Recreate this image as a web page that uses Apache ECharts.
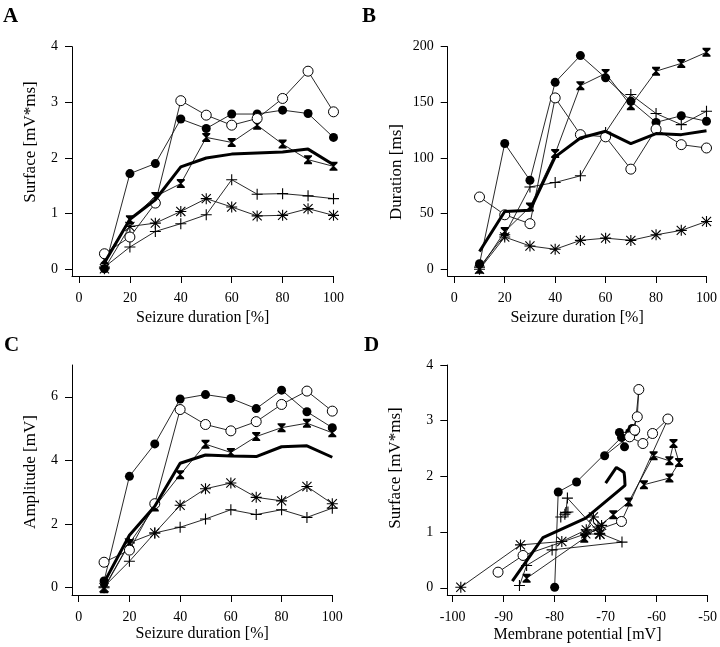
<!DOCTYPE html>
<html>
<head>
<meta charset="utf-8">
<script src="https://cdn.jsdelivr.net/npm/echarts@6/dist/echarts.min.js"></script>
<style>
html,body{margin:0;padding:0;background:#fff;}
#c{width:720px;height:647px;}
</style>
</head>
<body>
<div id="c"></div>
<script>
// x categories: seizure duration [%]
const pct = [10,20,30,40,50,60,70,80,90,100];

// Panel A: Surface [mV*ms]
const surfOpen   = [0.28,0.58,1.19,3.03,2.77,2.59,2.71,3.07,3.56,2.83];
const surfFilled = [0.01,1.72,1.90,2.70,2.53,2.79,2.79,2.86,2.80,2.37];
const surfHour   = [0.17,0.89,1.31,1.54,2.37,2.28,2.59,2.25,1.97,1.85];
const surfPlus   = [0.04,0.40,0.68,0.82,0.98,1.61,1.35,1.36,1.32,1.27];
const surfStar   = [0.01,0.77,0.83,1.04,1.27,1.12,0.96,0.97,1.09,0.97];
const surfMean   = [0.12,0.90,1.25,1.84,2.00,2.07,2.09,2.11,2.16,1.88];

// Panel B: Duration [ms]
const durOpen   = [65,49,41,154,121,119,90,126,112,109];
const durFilled = [5,113,80,168,192,172,151,132,138,133];
const durHour   = [0,34,56,104,165,176,147,178,185,195];
const durPlus   = [2,31,74,78,84,123,157,140,130,142];
const durStar   = [0,29,21,18,26,28,26,31,35,43];
const durMean   = [16,52,53,101,118,124,113,122,121,124.5];

// Panel C: Amplitude [mV]
const ampOpen   = [0.80,1.18,2.64,5.60,5.13,4.93,5.22,5.76,6.18,5.55];
const ampFilled = [0.21,3.50,4.52,5.93,6.07,5.95,5.63,6.21,5.53,5.03];
const ampHour   = [-0.03,1.39,2.54,3.55,4.51,4.25,4.75,5.03,5.17,4.87];
const ampPlus   = [0.03,0.83,1.72,1.90,2.16,2.45,2.30,2.45,2.21,2.50];
const ampStar   = [0.00,1.41,1.72,2.59,3.11,3.29,2.84,2.73,3.18,2.64];
const ampMean   = [0.16,1.65,2.56,3.91,4.17,4.14,4.12,4.43,4.46,4.10];

// Panel D: membrane potential [mV] (y = surface from panel A)
const vmOpen   = [-91.1,-86.2,-66.9,-57.8,-60.8,-62.7,-65.3,-63.8,-63.5,-64.3];
const vmFilled = [-80.0,-79.3,-75.7,-66.9,-66.3,-67.3,-65.3,-64.8,-64.3,-70.2];
const vmHour   = [-85.5,-74.2,-68.5,-65.5,-60.6,-57.5,-56.7,-55.6,-57.5,-62.5];
const vmPlus   = [-86.9,-85.5,-80.5,-66.8,-71.2,-77.5,-77.8,-77.4,-78.0,-78.8];
const vmStar   = [-98.4,-86.7,-78.6,-73.8,-72.4,-70.8,-71.1,-73.9,-71.5,-71.2];
const vmMean   = [-88.3,-82.3,-73.9,-66.2,-66.3,-66.4,-66.6,-67.0,-67.9,-70.0];

// tick labels
const pctTicks = [0,20,40,60,80,100];
const surfTicks = [0,1,2,3,4];
const durTicks = [0,50,100,150,200];
const ampTicks = [0,2,4,6];
const vmTicks = [-100,-90,-80,-70,-60,-50];

const FONT = '"Liberation Serif","Times New Roman",serif';
const HOUR = 'path://M0,0 L10,0 L10,1.6 L5.9,5 L10,8.4 L10,10 L0,10 L0,8.4 L4.1,5 L0,1.6 Z';
const PLUS = 'path://M4.5,0 L5.5,0 L5.5,4.5 L10,4.5 L10,5.5 L5.5,5.5 L5.5,10 L4.5,10 L4.5,5.5 L0,5.5 L0,4.5 L4.5,4.5 Z';
const STAR = 'path://M4.5,0 L5.5,0 L5.5,10 L4.5,10 Z M0,4.5 L10,4.5 L10,5.5 L0,5.5 Z M1.2,0.5 L9.5,8.8 L8.8,9.5 L0.5,1.2 Z M8.8,0.5 L9.5,1.2 L1.2,9.5 L0.5,8.8 Z';

const styles = {
  open:   {symbol:'circle', size:10, item:{color:'#fff', borderColor:'#000', borderWidth:1}},
  filled: {symbol:'circle', size:9,  item:{color:'#000', borderWidth:0}},
  hour:   {symbol:HOUR, size:[8,9],  item:{color:'#000', borderWidth:0}},
  plus:   {symbol:PLUS, size:11,     item:{color:'#000', borderWidth:0}},
  star:   {symbol:STAR, size:11,     item:{color:'#000', borderWidth:0}}
};

function thin(kind, data, gi){
  const s = styles[kind];
  return {type:'line', xAxisIndex:gi, yAxisIndex:gi, data:data, symbol:s.symbol, symbolSize:s.size,
    showSymbol:true, showAllSymbol:true, itemStyle:s.item,
    lineStyle:{color:'#111', width:0.9}, emphasis:{disabled:true}, z:3};
}
function mean(data, gi){
  return {type:'line', xAxisIndex:gi, yAxisIndex:gi, data:data, showSymbol:false, symbol:'none',
    lineStyle:{color:'#000', width:3}, emphasis:{disabled:true}, z:4};
}
const zip = (xs, ys) => xs.map((x,i)=>[x, ys[i]]);

function xAx(gi, min, max, ticks, name, gap){
  return {type:'value', gridIndex:gi, min:min, max:max,
    name:name, nameLocation:'middle', nameGap:gap,
    nameTextStyle:{fontFamily:FONT, fontSize:16, color:'#000'},
    axisLine:{show:true, onZero:false, lineStyle:{color:'#000', width:1}},
    axisTick:{show:true, length:7, customValues:ticks, lineStyle:{color:'#000', width:1}},
    axisLabel:{customValues:ticks, margin:15, fontFamily:FONT, fontSize:14, color:'#000'},
    splitLine:{show:false}};
}
function yAx(gi, min, max, ticks){
  return {type:'value', gridIndex:gi, min:min, max:max,
    axisLine:{show:true, onZero:false, lineStyle:{color:'#000', width:1}},
    axisTick:{show:true, length:7, customValues:ticks, lineStyle:{color:'#000', width:1}},
    axisLabel:{customValues:ticks, margin:14, fontFamily:FONT, fontSize:14, color:'#000'},
    splitLine:{show:false}};
}
function txt(x, y, text, size, bold, rot){
  return {type:'text', x:x, y:y, rotation:rot||0, silent:true,
    style:{text:text, fill:'#000', font:(bold?'bold ':'')+size+'px '+FONT,
      align:rot?'center':'left', verticalAlign:rot?'middle':'top'}};
}

const chart = echarts.init(document.getElementById('c'), null, {renderer:'canvas'});
chart.setOption({
  animation:false,
  backgroundColor:'#fff',
  grid:[
    {left:72, top:46.7, width:261.5, height:229.3},
    {left:447.7, top:46.7, width:259.6, height:229.3},
    {left:72, top:365, width:260.3, height:230},
    {left:447.3, top:365, width:261, height:230}
  ],
  xAxis:[
    xAx(0, -2.75, 100, pctTicks, 'Seizure duration [%]', 34),
    xAx(1, -2.61, 100, pctTicks, 'Seizure duration [%]', 34),
    xAx(2, -2.64, 100, pctTicks, 'Seizure duration [%]', 31),
    xAx(3, -101.05, -50, vmTicks, 'Membrane potential [mV]', 32)
  ],
  yAxis:[
    yAx(0, -0.12, 4, surfTicks),
    yAx(1, -6, 200, durTicks),
    yAx(2, -0.23, 7, ampTicks),
    yAx(3, -0.13, 4, surfTicks)
  ],
  graphic:[
    txt(3, 6, 'A', 21, true),
    txt(362, 6, 'B', 21, true),
    txt(4, 335, 'C', 21, true),
    txt(364, 335, 'D', 21, true),
    txt(31, 142, 'Surface [mV*ms]', 17, false, Math.PI/2),
    txt(397, 172, 'Duration [ms]', 17, false, Math.PI/2),
    txt(31, 472, 'Amplitude [mV]', 17, false, Math.PI/2),
    txt(396, 468, 'Surface [mV*ms]', 17, false, Math.PI/2)
  ],
  series:[
    thin('plus', zip(pct, surfPlus), 0),
    thin('star', zip(pct, surfStar), 0),
    thin('hour', zip(pct, surfHour), 0),
    thin('filled', zip(pct, surfFilled), 0),
    thin('open', zip(pct, surfOpen), 0),
    mean(zip(pct, surfMean), 0),

    thin('plus', zip(pct, durPlus), 1),
    thin('star', zip(pct, durStar), 1),
    thin('hour', zip(pct, durHour), 1),
    thin('filled', zip(pct, durFilled), 1),
    thin('open', zip(pct, durOpen), 1),
    mean(zip(pct, durMean), 1),

    thin('plus', zip(pct, ampPlus), 2),
    thin('star', zip(pct, ampStar), 2),
    thin('hour', zip(pct, ampHour), 2),
    thin('filled', zip(pct, ampFilled), 2),
    thin('open', zip(pct, ampOpen), 2),
    mean(zip(pct, ampMean), 2),

    thin('plus', zip(vmPlus, surfPlus), 3),
    thin('star', zip(vmStar, surfStar), 3),
    thin('hour', zip(vmHour, surfHour), 3),
    thin('filled', zip(vmFilled, surfFilled), 3),
    thin('open', zip(vmOpen, surfOpen), 3),
    mean(zip(vmMean, surfMean), 3)
  ]
});
</script>
</body>
</html>
